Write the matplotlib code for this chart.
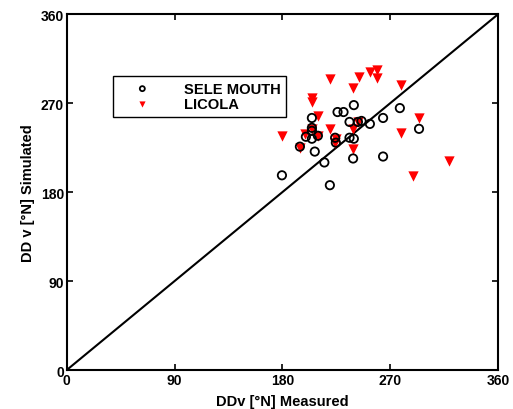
import numpy as np
import matplotlib.pyplot as plt

plt.rcParams['font.family'] = ['Liberation Sans', 'DejaVu Sans']
plt.rcParams['font.weight'] = 'bold'

# SELE MOUTH (measured, simulated)
sele_x = [239.6, 226, 231, 278, 204.6, 236, 243, 246, 253, 264, 294, 204.6, 204.6,
          199.6, 204.6, 209.6, 224, 224.6, 236, 239.6, 194.6, 207, 215, 239, 264,
          179.6, 219.6]
sele_y = [268, 261, 261, 265, 255, 251, 251, 252, 249, 255, 244, 245, 242,
          236, 234, 237, 235, 230, 235, 234, 226, 221, 210, 214, 216,
          197, 187]

# LICOLA
lic_x = [219.6, 243.7, 252.9, 258.8, 258.8, 239, 278.8, 204.6, 204.6, 209.6, 179.6,
         219.6, 239, 243, 294, 278.8, 198.75, 204.6, 209.6, 225, 224, 194.6, 239,
         318.75, 288.75]
lic_y = [294, 296, 301, 304, 295, 285, 288, 275, 271, 257, 237,
         244, 244, 251, 255, 240, 239, 244, 237, 234, 230, 225, 224,
         211, 196]

ticks = [0, 90, 180, 270, 360]

fig = plt.figure(figsize=(5.13, 4.10), dpi=100)
ax = fig.add_axes([0.13, 0.095, 0.841, 0.868])

ax.plot([0, 360], [0, 360], color='black', lw=1.5, zorder=1)
ax.scatter(sele_x, sele_y, s=36, facecolors='none', edgecolors='black',
           linewidths=1.3, label='SELE MOUTH', zorder=3)
ax.scatter(lic_x, lic_y, s=55, marker='v', color='red', linewidths=0,
           label='LICOLA', zorder=2)

ax.set_xlim(0, 360)
ax.set_ylim(0, 360)
ax.set_xticks(ticks)
ax.set_yticks(ticks)
ax.tick_params(direction='in', length=4, width=1.2, labelsize=10, pad=2,
               top=True, right=True)
for s in ax.spines.values():
    s.set_linewidth(1.5)
ax.set_xlabel('DDv [°N] Measured', fontsize=10.5, fontweight='bold', labelpad=5)
ax.set_ylabel('DD v [°N] Simulated', fontsize=10.5, fontweight='bold', labelpad=4)

leg = ax.legend(loc='upper left', bbox_to_anchor=(0.09, 0.848), fancybox=False,
                edgecolor='black', framealpha=1, fontsize=10.6, handletextpad=1.2,
                borderpad=0.4, labelspacing=0.1, markerscale=0.6, handlelength=3.2)
leg.get_frame().set_linewidth(1.0)

fig.savefig('out.png', dpi=100)
